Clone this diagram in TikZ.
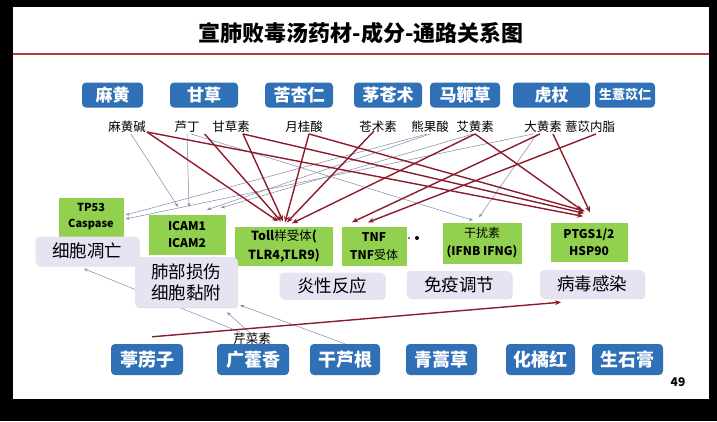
\documentclass[tikz,border=0pt]{standalone}
\usepackage{fontspec}
\setmainfont{Noto Sans CJK SC}
\usetikzlibrary{arrows.meta,shadows,calc}
\pgfdeclarelayer{base}
\pgfdeclarelayer{edges}
\pgfsetlayers{base,edges,main}
\definecolor{herbblue}{RGB}{47,112,183}
\definecolor{leafgreen}{RGB}{146,208,80}
\definecolor{lav}{RGB}{230,228,243}
\definecolor{maroon}{RGB}{140,28,44}
\definecolor{steel}{RGB}{128,138,165}
\definecolor{titlered}{RGB}{185,55,65}
\tikzset{
  herb/.style={fill=herbblue, rounded corners=4pt, text=white, inner sep=0pt,
    minimum height=25pt, font=\fontsize{17}{17}\selectfont\bfseries},
  bherb/.style={herb, minimum height=31pt, minimum width=71pt, font=\fontsize{18}{18}\selectfont\bfseries},
  gene/.style={fill=leafgreen, align=center, inner sep=0pt, font=\fontsize{11.5}{16.5}\selectfont\bfseries},
  func/.style={fill=lav, rounded corners=4pt, align=center, inner sep=0pt,
    font=\fontsize{17.5}{21}\selectfont,
    general shadow={fill=black!12, shadow xshift=1.2pt, shadow yshift=-1.2pt}},
  cmpd/.style={inner sep=1pt, font=\fontsize{12.5}{13}\selectfont},
  redarr/.style={draw=maroon, line width=1.4pt, -{Stealth[length=6pt,width=5pt]}},
  grayarr/.style={draw=steel, line width=0.5pt, -{Stealth[length=4pt,width=3pt]}}
}
\begin{document}
\begin{tikzpicture}[x=1pt,y=-1pt]
\useasboundingbox (0,0) rectangle (717,421);
\begin{pgfonlayer}{base}
\fill[black] (0,0) rectangle (717,421);
\fill[white] (13,7) rectangle (709,399);
\draw[titlered, line width=2pt] (13,54) -- (709,54);
\end{pgfonlayer}

\node[font=\fontsize{22}{22}\selectfont\bfseries] (title) at (361,33) {宣肺败毒汤药材-成分-通路关系图};

% top herbs
\node[herb, minimum width=61pt] (mh) at (112.5,95) {麻黄};
\node[herb, minimum width=68pt] (gc) at (204,95) {甘草};
\node[herb, minimum width=68pt] (kxr) at (299,95) {苦杏仁};
\node[herb, minimum width=68pt] (mcz) at (388,95) {茅苍术};
\node[herb, minimum width=70pt] (mbc) at (465,95) {马鞭草};
\node[herb, minimum width=77pt] (hz) at (551.5,95) {虎杖};
\node[herb, minimum width=60pt, font=\fontsize{13}{13}\selectfont\bfseries] (syyr) at (625,95) {生薏苡仁};

% compounds
\node[cmpd] (mhj) at (127,127) {麻黄碱};
\node[cmpd] (ld) at (187,127) {芦丁};
\node[cmpd] (gcs) at (231,127) {甘草素};
\node[cmpd] (ygs) at (304,127) {月桂酸};
\node[cmpd] (zss) at (378,127) {苍术素};
\node[cmpd] (xgs) at (430,127) {熊果酸};
\node[cmpd] (ahs) at (475,127) {艾黄素};
\node[cmpd] (dhs) at (543,127) {大黄素};
\node[cmpd] (yynz) at (590,127) {薏苡内脂};

% genes
\node[gene, minimum width=65pt, minimum height=39pt, font=\fontsize{11}{16}\selectfont\bfseries] (tp53) at (91,217) {TP53\\Caspase};
\node[gene, minimum width=77pt, minimum height=40pt, font=\fontsize{12}{17}\selectfont\bfseries] (icam) at (187,235) {ICAM1\\ICAM2};
\node[gene, minimum width=98pt, minimum height=39pt, font=\fontsize{12.5}{18.5}\selectfont\bfseries] (toll) at (284,246) {Toll{\mdseries 样受体}(\\TLR4,TLR9)};
\node[gene, minimum width=65pt, minimum height=39pt, font=\fontsize{12}{18}\selectfont\bfseries] (tnf) at (374,246) {TNF\\TNF{\mdseries 受体}};
\node[gene, minimum width=79pt, minimum height=41pt, font=\fontsize{12}{18}\selectfont\bfseries] (ifn) at (482,243) {{\mdseries 干扰素}\\(IFNB IFNG)};
\node[gene, minimum width=77pt, minimum height=39pt, font=\fontsize{12}{17}\selectfont\bfseries] (ptgs) at (589,242) {PTGS1/2\\HSP90};

\fill (409,238) circle (0.8pt);
\fill (417,238) circle (2pt);

% functions
\node[func, minimum width=103pt, minimum height=29pt] (apop) at (87,251) {细胞凋亡};
\node[func, minimum width=102pt, minimum height=50pt] (lung) at (186,282) {肺部损伤\\细胞黏附};
\node[func, minimum width=105pt, minimum height=26pt] (infl) at (332,285.5) {炎性反应};
\node[func, minimum width=105pt, minimum height=27pt] (immun) at (459,284.5) {免疫调节};
\node[func, minimum width=104pt, minimum height=28pt] (virus) at (592,284) {病毒感染};

% bottom herbs
\node[bherb, minimum width=72pt] (tlz) at (147,359.5) {葶苈子};
\node[bherb, minimum width=72pt] (ghx) at (253,359.5) {广藿香};
\node[bherb, minimum width=70pt] (glg) at (345,359.5) {干芦根};
\node[bherb, minimum width=71pt] (qhc) at (441.5,359.5) {青蒿草};
\node[bherb, minimum width=69pt] (hjh) at (540.5,359.5) {化橘红};
\node[bherb, minimum width=71pt] (ssg) at (627.5,359.5) {生石膏};

\node[cmpd] (qcs) at (252,339) {芹菜素};
\node[font=\fontsize{12}{12}\selectfont\bfseries] (pg) at (678,382) {49};

\begin{pgfonlayer}{edges}
% gray connectors
\draw[grayarr] ([xshift=4pt]mhj.south) -- ([xshift=-9pt,yshift=8pt]icam.north);
\draw[grayarr] (ld.south) -- ([xshift=2pt,yshift=8pt]icam.north);
\draw[grayarr] ([xshift=4pt]ld.south) -- ([xshift=-9pt,yshift=2pt]ifn.north);
\draw[grayarr] (xgs.south) -- ([xshift=20pt,yshift=5pt]icam.north);
\draw[grayarr] ([xshift=-3pt]xgs.south) -- ([xshift=2pt,yshift=2pt]tp53.east);
\draw[grayarr] ([xshift=-2pt]ahs.south) -- ([xshift=34pt,yshift=7pt]icam.north);
\draw[grayarr] ([xshift=-10pt]dhs.south) -- ([xshift=2pt,yshift=-2pt]tp53.east);
\draw[grayarr] ([xshift=-6pt]dhs.south) -- ([xshift=-3pt,yshift=5pt]ifn.north);
\draw[grayarr] ([xshift=-3pt]qcs.north) -- ([xshift=41pt,yshift=-5pt]lung.south);
\draw[grayarr] ([xshift=-12pt]qcs.north) -- ([xshift=-3pt,yshift=-3pt]apop.south);
\draw[grayarr] (glg.north) -- ([xshift=3pt,yshift=2pt]lung.south east);
% red connectors
\draw[redarr] ([yshift=2pt]mhj.south east) -- ([xshift=-6pt,yshift=5pt]toll.north);
\draw[redarr] ([yshift=2pt]mhj.south east) -- ([xshift=-6pt,yshift=6pt]ptgs.north);
\draw[redarr] ([xshift=4pt]ld.south east) -- ([xshift=-3pt,yshift=5pt]toll.north);
\draw[redarr] ([xshift=12pt]gcs.south) -- ([xshift=-1pt,yshift=5pt]toll.north);
\draw[redarr] ([xshift=12pt]gcs.south) -- ([xshift=-5pt,yshift=9pt]ptgs.north);
\draw[redarr] ([xshift=5pt]ygs.south) -- ([xshift=1pt,yshift=4pt]toll.north);
\draw[redarr] ([xshift=5pt]ygs.south) -- ([xshift=-4pt,yshift=11pt]ptgs.north);
\draw[redarr] ([xshift=-4pt,yshift=3pt]zss.south) -- ([xshift=3pt,yshift=4pt]toll.north);
\draw[redarr] (ahs.south) -- ([xshift=8pt,yshift=3pt]toll.north);
\draw[redarr] (ahs.south) -- ([xshift=-7pt,yshift=12pt]ptgs.north);
\draw[redarr] ([xshift=-3pt]dhs.south) -- ([xshift=-22pt,yshift=4pt]tnf.north);
\draw[redarr] ([xshift=10pt]dhs.south) -- ([xshift=1pt,yshift=10pt]ptgs.north);
\draw[redarr] ([xshift=6pt]yynz.south) -- ([xshift=-6pt,yshift=4pt]tnf.north);
\draw[redarr] ([xshift=5pt,yshift=7pt]tlz.north) -- ([xshift=-31pt,yshift=-4pt]virus.south);
\end{pgfonlayer}
\end{tikzpicture}
\end{document}
